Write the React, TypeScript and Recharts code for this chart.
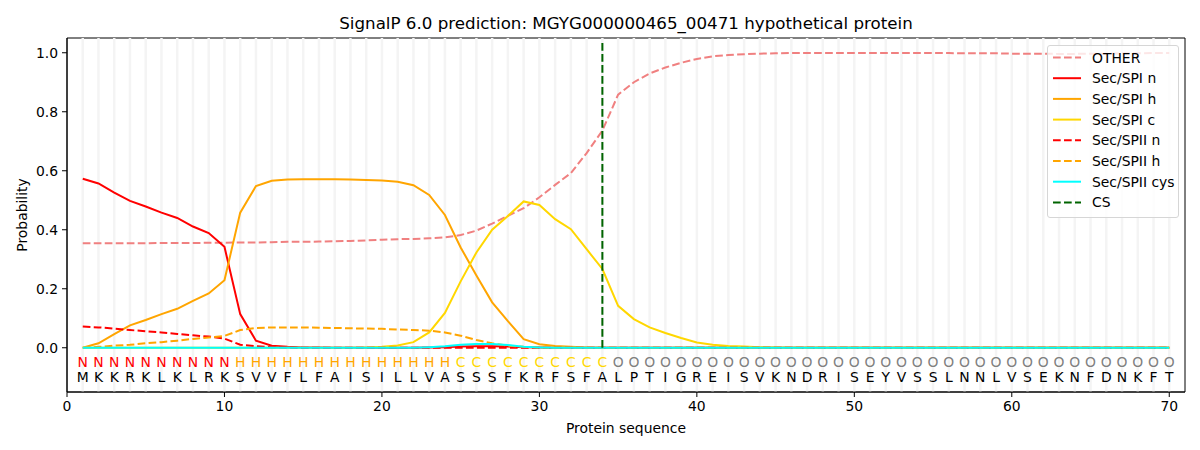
import {
  ComposedChart,
  Line,
  ReferenceArea,
  ReferenceLine,
  Scatter,
  XAxis,
  YAxis,
} from "recharts";

const sequence = "MKKRKLKLRKSVVFLFAISILLVASSSFKRFSFALPTIGREISVKNDRISEYVSSLNNLVSEKNFDNKFT".split("");
const regions = "NNNNNNNNNNHHHHHHHHHHHHHHCCCCCCCCCCOOOOOOOOOOOOOOOOOOOOOOOOOOOOOOOOOOOO".split("");
const cleavageSite = 34;

const xTicks = [0, 10, 20, 30, 40, 50, 60, 70];
const yTicks = [0, 0.2, 0.4, 0.6, 0.8, 1.0];

const other = [
  0.354, 0.354, 0.354, 0.354, 0.354, 0.355, 0.355, 0.355, 0.356, 0.356,
  0.357, 0.357, 0.358, 0.359, 0.359, 0.36, 0.361, 0.362, 0.364, 0.366,
  0.368, 0.369, 0.371, 0.374, 0.382, 0.397, 0.421, 0.447, 0.473, 0.51,
  0.552, 0.592, 0.66, 0.736, 0.858, 0.9, 0.93, 0.95, 0.966, 0.979,
  0.988, 0.992, 0.995, 0.997, 0.998, 0.999, 0.999, 0.999, 0.999, 0.999,
  0.999, 0.999, 0.999, 0.999, 0.999, 0.999, 0.998, 0.998, 0.998, 0.997,
  0.997, 0.997, 0.996, 0.996, 0.997, 0.997, 0.998, 0.998, 0.999, 0.999,
];
const spiN = [
  0.573, 0.557, 0.526, 0.498, 0.479, 0.458, 0.44, 0.411, 0.389, 0.342,
  0.114, 0.024, 0.007, 0.003, 0.001, 0.001, 0, 0, 0, 0,
  0, 0, 0.001, 0.002, 0.004, 0.005, 0.005, 0.004, 0.002, 0.001,
  0, 0, 0, 0, 0, 0, 0, 0, 0, 0,
  0, 0, 0, 0, 0, 0, 0, 0, 0, 0,
  0, 0, 0, 0, 0, 0, 0, 0, 0, 0,
  0, 0, 0, 0, 0, 0, 0, 0, 0, 0,
];
const spiH = [
  0, 0.015, 0.046, 0.076, 0.094, 0.114, 0.132, 0.159, 0.184, 0.229,
  0.458, 0.548, 0.566, 0.57, 0.571, 0.571, 0.571, 0.57, 0.569, 0.567,
  0.563, 0.551, 0.518, 0.45, 0.34, 0.245, 0.154, 0.09, 0.029, 0.012,
  0.006, 0.003, 0.001, 0, 0, 0, 0, 0, 0, 0,
  0, 0, 0, 0, 0, 0, 0, 0, 0, 0,
  0, 0, 0, 0, 0, 0, 0, 0, 0, 0,
  0, 0, 0, 0, 0, 0, 0, 0, 0, 0,
];
const spiC = [
  0, 0, 0, 0, 0, 0, 0, 0, 0, 0,
  0, 0, 0, 0, 0, 0, 0, 0, 0.001, 0.003,
  0.008, 0.019, 0.052, 0.118, 0.225, 0.323, 0.4, 0.447, 0.496, 0.484,
  0.436, 0.402, 0.334, 0.267, 0.142, 0.097, 0.069, 0.05, 0.033, 0.018,
  0.01, 0.006, 0.004, 0.002, 0.001, 0, 0, 0, 0, 0,
  0, 0, 0, 0, 0, 0, 0, 0, 0, 0,
  0, 0, 0, 0, 0, 0, 0, 0, 0, 0,
];
const spiiN = [
  0.072, 0.069, 0.065, 0.06, 0.056, 0.052, 0.047, 0.042, 0.038, 0.031,
  0.01, 0.005, 0.002, 0.001, 0, 0, 0, 0, 0, 0,
  0, 0, 0, 0, 0, 0, 0, 0, 0, 0,
  0, 0, 0, 0, 0, 0, 0, 0, 0, 0,
  0, 0, 0, 0, 0, 0, 0, 0, 0, 0,
  0, 0, 0, 0, 0, 0, 0, 0, 0, 0,
  0, 0, 0, 0, 0, 0, 0, 0, 0, 0,
];
const spiiH = [
  0, 0.003, 0.007, 0.01, 0.015, 0.019, 0.024, 0.03, 0.035, 0.04,
  0.06, 0.067, 0.069, 0.069, 0.069, 0.068, 0.067, 0.066, 0.065, 0.064,
  0.062, 0.06, 0.058, 0.052, 0.041, 0.026, 0.015, 0.007, 0.003, 0.001,
  0, 0, 0, 0, 0, 0, 0, 0, 0, 0,
  0, 0, 0, 0, 0, 0, 0, 0, 0, 0,
  0, 0, 0, 0, 0, 0, 0, 0, 0, 0,
  0, 0, 0, 0, 0, 0, 0, 0, 0, 0,
];
const spiiCys = [
  0, 0, 0, 0, 0, 0, 0, 0, 0, 0,
  0, 0, 0, 0, 0, 0, 0, 0, 0, 0,
  0, 0, 0.002, 0.005, 0.01, 0.013, 0.013, 0.009, 0.003, 0.001,
  0, 0, 0, 0, 0, 0, 0, 0, 0, 0,
  0, 0, 0, 0, 0, 0, 0, 0, 0, 0,
  0, 0, 0, 0, 0, 0, 0, 0, 0, 0,
  0, 0, 0, 0, 0, 0, 0, 0, 0, 0,
];

const series = [
  { key: "other", name: "OTHER", values: other, color: "#f08080", dashed: true },
  { key: "spiN", name: "Sec/SPI n", values: spiN, color: "#ff0000", dashed: false },
  { key: "spiH", name: "Sec/SPI h", values: spiH, color: "#ffa500", dashed: false },
  { key: "spiC", name: "Sec/SPI c", values: spiC, color: "#ffd700", dashed: false },
  { key: "spiiN", name: "Sec/SPII n", values: spiiN, color: "#ff0000", dashed: true },
  { key: "spiiH", name: "Sec/SPII h", values: spiiH, color: "#ffa500", dashed: true },
  { key: "spiiCys", name: "Sec/SPII cys", values: spiiCys, color: "#00ffff", dashed: false },
];

const regionColors: Record<string, string> = {
  N: "#ff0000",
  H: "#ffa500",
  C: "#ffd700",
  O: "#808080",
};

const FONT = "DejaVu Sans, sans-serif";
const DASH = "7.7 3.3";
const REGION_ROW = -0.047;
const RESIDUE_ROW = -0.1;

const rows = sequence.map((aa, i) => {
  const row: Record<string, number | string> = { pos: i + 1, aa, region: regions[i] };
  series.forEach((s) => (row[s.key] = s.values[i]));
  return row;
});

const regionLabels = rows.map((r) => ({ ...r, row: REGION_ROW }));
const residueLabels = rows.map((r) => ({ ...r, row: RESIDUE_ROW }));

function Legend() {
  const items = [
    ...series.map((s) => ({ name: s.name, color: s.color, dashed: s.dashed })),
    { name: "CS", color: "#006400", dashed: true },
  ];
  return (
    <div
      style={{
        position: "absolute",
        left: 1047,
        top: 45,
        width: 130,
        height: 171,
        border: "1px solid #d6d6d6",
        borderRadius: 3,
        background: "rgba(255,255,255,0.8)",
      }}
    >
      <svg width={130} height={171}>
        {items.map((it, i) => {
          const y = 11.5 + i * 20.7;
          return (
            <g key={it.name}>
              <line
                x1={5}
                x2={33}
                y1={y}
                y2={y}
                stroke={it.color}
                strokeWidth={2}
                strokeDasharray={it.dashed ? DASH : undefined}
              />
              <text x={44} y={y} dominantBaseline="central" fontFamily={FONT} fontSize={13.9} fill="#000">
                {it.name}
              </text>
            </g>
          );
        })}
      </svg>
    </div>
  );
}

export default function App() {
  return (
    <div style={{ position: "absolute", left: 0, top: 0, width: 1200, height: 450, background: "#fff" }}>
      <div
        style={{
          position: "absolute",
          left: 0,
          width: 1252,
          top: 12,
          textAlign: "center",
          fontFamily: FONT,
          fontSize: 16.7,
          lineHeight: "22px",
          color: "#000",
        }}
      >
        SignalP 6.0 prediction: MGYG000000465_00471 hypothetical protein
      </div>
      <ComposedChart
        width={1200}
        height={450}
        data={rows}
        margin={{ top: 38, right: 15, bottom: 28, left: 0 }}
        style={{ position: "absolute", left: 0, top: 0 }}
      >
        <XAxis
          dataKey="pos"
          type="number"
          domain={[0, 71]}
          ticks={xTicks}
          allowDataOverflow
          height={30}
          tickSize={5}
          tickMargin={4}
          stroke="#000"
          tick={{ fill: "#000", fontFamily: FONT, fontSize: 13.9 }}
        />
        <YAxis
          type="number"
          domain={[-0.15, 1.05]}
          ticks={yTicks}
          allowDataOverflow
          width={67}
          tickSize={5}
          tickMargin={4}
          stroke="#000"
          tickFormatter={(v: number) => v.toFixed(1)}
          tick={{ fill: "#000", fontFamily: FONT, fontSize: 13.9 }}
        />
        {rows.map((r) => (
          <ReferenceLine key={`band-${r.pos}`} x={r.pos as number} stroke="#f4f4f4" strokeWidth={2.5} />
        ))}
        <ReferenceArea x1={0} x2={71} y1={-0.15} y2={1.05} fill="none" stroke="#000" strokeWidth={1} />
        {series.map((s) => (
          <Line
            key={s.key}
            dataKey={s.key}
            name={s.name}
            type="linear"
            stroke={s.color}
            strokeWidth={2}
            strokeDasharray={s.dashed ? DASH : undefined}
            dot={false}
            activeDot={false}
            isAnimationActive={false}
          />
        ))}
        <ReferenceLine
          segment={[
            { x: cleavageSite, y: 0 },
            { x: cleavageSite, y: 1.037 },
          ]}
          stroke="#006400"
          strokeWidth={2}
          strokeDasharray={DASH}
        />
        <Scatter
          data={regionLabels}
          dataKey="row"
          isAnimationActive={false}
          shape={(p: any) => (
            <text
              x={p.cx}
              y={p.cy}
              textAnchor="middle"
              dominantBaseline="central"
              fontFamily={FONT}
              fontSize={13.9}
              fill={regionColors[p.payload.region]}
            >
              {p.payload.region}
            </text>
          )}
        />
        <Scatter
          data={residueLabels}
          dataKey="row"
          isAnimationActive={false}
          shape={(p: any) => (
            <text
              x={p.cx}
              y={p.cy}
              textAnchor="middle"
              dominantBaseline="central"
              fontFamily={FONT}
              fontSize={13.9}
              fill="#000"
            >
              {p.payload.aa}
            </text>
          )}
        />
      </ComposedChart>
      <div
        style={{
          position: "absolute",
          left: 0,
          width: 1252,
          top: 418,
          textAlign: "center",
          fontFamily: FONT,
          fontSize: 13.9,
          lineHeight: "20px",
          color: "#000",
        }}
      >
        Protein sequence
      </div>
      <div
        style={{
          position: "absolute",
          left: 22 - 60,
          top: 215 - 10,
          width: 120,
          lineHeight: "20px",
          textAlign: "center",
          transform: "rotate(-90deg)",
          fontFamily: FONT,
          fontSize: 13.9,
          color: "#000",
        }}
      >
        Probability
      </div>
      <Legend />
    </div>
  );
}
